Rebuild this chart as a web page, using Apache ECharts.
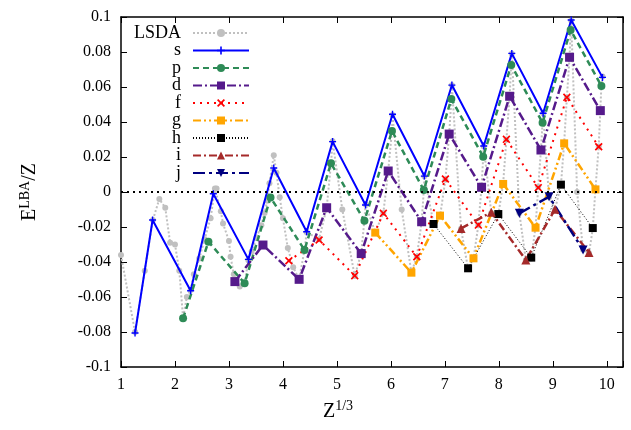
<!DOCTYPE html>
<html>
<head>
<meta charset="utf-8">
<script src="https://cdn.jsdelivr.net/npm/echarts@6/dist/echarts.min.js"></script>
<style>
  html, body { margin: 0; padding: 0; background: #fff; }
  #chart { width: 631px; height: 430px; }
</style>
</head>
<body>
<div id="chart"></div>
<script>
// values, x = Z^(1/3), y = E^LBA / Z
var lsda = [
  [1.00, -0.036], [1.26, -0.080], [1.44, -0.045], [1.59, -0.016], [1.71, -0.004],
  [1.82, -0.009], [1.91, -0.029], [2.00, -0.030], [2.08, -0.045], [2.15, -0.072],
  [2.22, -0.060], [2.29, -0.056], [2.35, -0.047], [2.45, -0.038], [2.55, -0.027],
  [2.66, -0.015], [2.74, 0.002], [2.77, 0.002], [2.85, -0.011], [2.89, -0.018],
  [3.00, -0.028], [3.03, -0.037], [3.09, -0.047], [3.20, -0.054], [3.29, -0.052],
  [3.36, -0.039], [3.42, -0.034], [3.51, -0.026], [3.60, -0.019], [3.66, -0.012],
  [3.71, -0.005], [3.75, 0.005], [3.83, 0.021], [3.88, 0.011], [3.94, -0.003],
  [4.00, -0.015], [4.09, -0.032], [4.19, -0.043], [4.30, -0.050], [4.40, -0.033],
  [4.44, -0.023], [4.67, -0.027], [4.81, -0.009], [4.89, 0.016], [4.92, 0.029],
  [5.10, -0.010], [5.33, -0.048], [5.45, -0.035], [5.51, -0.016], [5.53, -0.007],
  [5.71, -0.023], [5.86, -0.012], [5.95, 0.012], [6.02, 0.035], [6.03, 0.044],
  [6.20, -0.010], [6.38, -0.046], [6.48, -0.037], [6.57, -0.017], [6.61, 0.001],
  [6.62, 0.009], [6.79, -0.018], [6.91, -0.014], [7.01, 0.007], [7.08, 0.033],
  [7.12, 0.053], [7.13, 0.061], [7.30, -0.021], [7.43, -0.044], [7.53, -0.038],
  [7.62, -0.019], [7.68, 0.003], [7.71, 0.020], [7.72, 0.026], [7.86, -0.012],
  [7.99, -0.013], [8.08, 0.005], [8.14, 0.030], [8.20, 0.055], [8.23, 0.073],
  [8.24, 0.079], [8.38, -0.012], [8.50, -0.039], [8.60, -0.038], [8.68, -0.020],
  [8.73, 0.003], [8.78, 0.024], [8.81, 0.040], [8.82, 0.045], [8.93, -0.003],
  [9.04, -0.010], [9.15, 0.004], [9.21, 0.028], [9.26, 0.054], [9.31, 0.077],
  [9.33, 0.093], [9.34, 0.098], [9.45, 0.000], [9.56, -0.033], [9.67, -0.035],
  [9.74, -0.021], [9.79, 0.002], [9.85, 0.026], [9.88, 0.047], [9.90, 0.061],
  [9.92, 0.066]
];
var sShell = [
  [1.26, -0.0806], [1.585, -0.016], [2.29, -0.0564], [2.71, -0.001], [3.36, -0.0385],
  [3.83, 0.0137], [4.44, -0.0227], [4.92, 0.0288], [5.53, -0.0074], [6.03, 0.0444],
  [6.62, 0.0091], [7.13, 0.0611], [7.72, 0.0263], [8.24, 0.0792], [8.82, 0.045],
  [9.34, 0.0983], [9.92, 0.0655]
];
var pShell = [
  [2.15, -0.0722], [2.62, -0.0284], [3.29, -0.0522], [3.77, -0.0032], [4.40, -0.0331],
  [4.89, 0.0164], [5.51, -0.0164], [6.02, 0.0349], [6.61, 0.0011], [7.12, 0.0531],
  [7.71, 0.0202], [8.23, 0.0726], [8.81, 0.0396], [9.33, 0.0926], [9.90, 0.0606]
];
var dShell = [
  [3.11, -0.0512], [3.63, -0.0303], [4.30, -0.0499], [4.81, -0.009], [5.45, -0.0352],
  [5.95, 0.012], [6.57, -0.017], [7.08, 0.0331], [7.68, 0.0027], [8.20, 0.0547],
  [8.78, 0.024], [9.31, 0.077], [9.88, 0.0465]
];
var fShell = [
  [4.11, -0.0393], [4.67, -0.0274], [5.33, -0.0478], [5.86, -0.0122], [6.48, -0.037],
  [7.01, 0.0074], [7.62, -0.0189], [8.14, 0.0301], [8.73, 0.0025], [9.26, 0.0541],
  [9.85, 0.0259]
];
var gShell = [
  [5.71, -0.0232], [6.38, -0.0461], [6.91, -0.0135], [7.53, -0.0379], [8.08, 0.0046],
  [8.68, -0.0204], [9.21, 0.0278], [9.79, 0.0015]
];
var hShell = [
  [6.79, -0.0183], [7.43, -0.0436], [7.99, -0.0126], [8.60, -0.0375], [9.15, 0.0042],
  [9.74, -0.0206]
];
var iShell = [
  [7.30, -0.0208], [7.86, -0.0116], [8.50, -0.0389], [9.04, -0.0099], [9.67, -0.0345]
];
var jShell = [
  [8.38, -0.0122], [8.93, -0.0027], [9.56, -0.0331]
];
var names = ['LSDA', 's', 'p', 'd', 'f', 'g', 'h', 'i', 'j'];

var serif = 'Liberation Serif';
var plus = 'path://M4,0H6V4H10V6H6V10H4V6H0V4H4Z';
var cross = 'path://M1.5,0L5,3.5L8.5,0L10,1.5L6.5,5L10,8.5L8.5,10L5,6.5L1.5,10L0,8.5L3.5,5L0,1.5Z';

function line(name, data, color, type, width, symbol, size, extra) {
    var s = {
        name: name,
        type: 'line',
        data: data,
        color: color,
        symbol: symbol,
        symbolSize: size,
        lineStyle: { color: color, type: type, width: width },
        itemStyle: { color: color },
        z: 3
    };
    for (var k in extra) s[k] = extra[k];
    return s;
}

var series = [
    line('LSDA', lsda, '#c0c0c0', [2, 2], 2, 'circle', 6, { z: 2 }),
    line('s', sShell, '#0000ff', 'solid', 2, plus, 7, {
        markLine: {
            silent: true,
            symbol: 'none',
            label: { show: false },
            lineStyle: { color: '#000', type: [2, 4], width: 2 },
            data: [{ yAxis: 0 }]
        }
    }),
    line('p', pShell, '#2e8b57', [6, 4], 2.5, 'circle', 8),
    line('d', dShell, '#551a8b', [9, 3, 2, 3], 2.5, 'rect', 9),
    line('f', fShell, '#ff0000', [2, 5], 2, cross, 8),
    line('g', gShell, '#ffa500', [8, 3, 2, 3, 2, 3], 2.5, 'rect', 8),
    line('h', hShell, '#000000', [1, 2], 1, 'rect', 8),
    line('i', iShell, '#a52a2a', [8, 3, 2, 3], 2.5, 'triangle', 9),
    line('j', jShell, '#000080', [12, 4, 3, 4], 2.5, 'triangle', 9, { symbolRotate: 180 })
];

var legends = names.map(function (n, i) {
    return {
        data: [n],
        right: 381,
        top: 24 + i * 17.5,
        padding: 0,
        align: 'right',
        itemWidth: 56,
        itemHeight: 10,
        selectedMode: false,
        textStyle: { fontFamily: serif, fontSize: 18, color: '#000', lineHeight: 16, padding: [0, 7, 0, 0] }
    };
});

var frameLine = { onZero: false, lineStyle: { color: '#000', width: 1.5 } };
var frameTick = { inside: true, length: 6, lineStyle: { color: '#000' } };

var chart = echarts.init(document.getElementById('chart'));
chart.setOption({
    animation: false,
    backgroundColor: '#fff',
    legend: legends,
    grid: { left: 121, right: 8, top: 17, bottom: 63 },
    xAxis: [{
        type: 'value',
        min: 1,
        max: 10.3,
        interval: 1,
        name: '{b|Z}{sup|1/3}',
        nameLocation: 'middle',
        nameGap: 32,
        nameTextStyle: {
            padding: [0, 68, 0, 0],
            rich: {
                b: { fontFamily: serif, fontSize: 20, color: '#000', verticalAlign: 'bottom' },
                sup: { fontFamily: serif, fontSize: 14, color: '#000', verticalAlign: 'top', padding: [0, 0, 9, 0] }
            }
        },
        axisLine: frameLine,
        axisTick: frameTick,
        axisLabel: {
            fontFamily: serif, fontSize: 16, color: '#000', margin: 10,
            formatter: function (v) { return Math.abs(v - Math.round(v)) < 1e-6 ? String(Math.round(v)) : ''; }
        },
        splitLine: { show: false }
    }, {
        type: 'value',
        position: 'top',
        min: 1,
        max: 10.3,
        interval: 1,
        axisLine: frameLine,
        axisTick: frameTick,
        axisLabel: { show: false },
        splitLine: { show: false }
    }],
    yAxis: [{
        type: 'value',
        min: -0.1,
        max: 0.1,
        interval: 0.02,
        name: '{b|E}{sup|LBA}{b|/Z}',
        nameLocation: 'middle',
        nameGap: 80,
        nameRotate: 90,
        nameTextStyle: {
            rich: {
                b: { fontFamily: serif, fontSize: 20, color: '#000' },
                sup: { fontFamily: serif, fontSize: 14, color: '#000', padding: [0, 0, 9, 0] }
            }
        },
        axisLine: { show: true, onZero: false, lineStyle: { color: '#000', width: 1.5 } },
        axisTick: { show: true, inside: true, length: 6, lineStyle: { color: '#000' } },
        axisLabel: { fontFamily: serif, fontSize: 16, color: '#000', margin: 10 },
        splitLine: { show: false }
    }, {
        type: 'value',
        position: 'right',
        min: -0.1,
        max: 0.1,
        interval: 0.02,
        axisLine: { show: true, onZero: false, lineStyle: { color: '#000', width: 1.5 } },
        axisTick: { show: true, inside: true, length: 6, lineStyle: { color: '#000' } },
        axisLabel: { show: false },
        splitLine: { show: false }
    }],
    series: series
});
</script>
</body>
</html>
